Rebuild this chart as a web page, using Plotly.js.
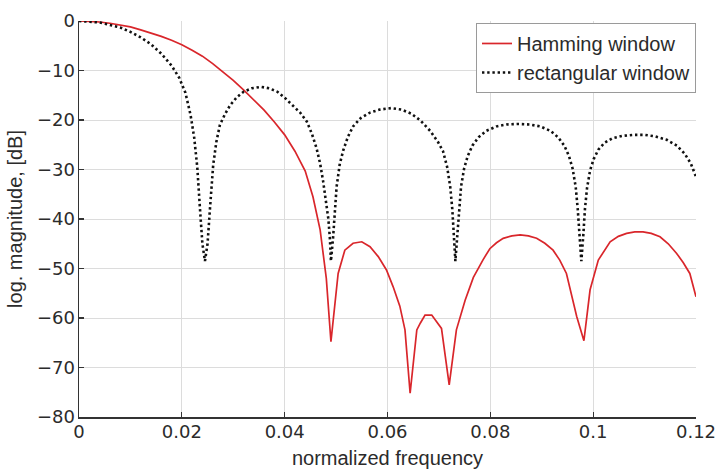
<!DOCTYPE html>
<html>
<head>
<meta charset="utf-8">
<script src="https://cdn.plot.ly/plotly-3.0.1.min.js"></script>
<style>
  html, body { margin: 0; padding: 0; background: #fff; }
  #chart { width: 718px; height: 474px; }
</style>
</head>
<body>
<div id="chart"></div>
<script>
// Hamming window magnitude response (normalized frequency, dB)
const hammingFreq = [
  0, 0.002, 0.004, 0.006, 0.008, 0.010, 0.012, 0.014, 0.016, 0.018,
  0.020, 0.022, 0.024, 0.026, 0.028, 0.030, 0.032, 0.034, 0.036, 0.038,
  0.040, 0.042, 0.044, 0.0455, 0.0469, 0.0481, 0.0490,
  0.0504, 0.0517, 0.0533, 0.0550, 0.0566, 0.0582, 0.0598, 0.0611, 0.0624, 0.0634,
  0.0644, 0.0657, 0.0664, 0.0673, 0.0686, 0.0705, 0.0720, 0.0734, 0.0751, 0.0767,
  0.0786, 0.0799, 0.0812, 0.0825, 0.0842, 0.0858, 0.0874, 0.0890, 0.0906, 0.0922,
  0.0935, 0.0948, 0.0968, 0.0982, 0.0994,
  0.1010, 0.1033, 0.1049, 0.1065, 0.1081, 0.1097, 0.1113, 0.1130, 0.1146, 0.1162,
  0.1175, 0.1188, 0.1200
];
const hammingDb = [
  0, -0.05, -0.2, -0.45, -0.8, -1.2, -1.8, -2.4, -3.1, -3.9,
  -4.8, -5.9, -7.1, -8.6, -10.3, -12.0, -13.9, -15.9, -18.0, -20.4,
  -23.0, -26.3, -30.3, -35.5, -42.2, -52.0, -64.8,
  -51.0, -46.3, -44.9, -44.6, -45.6, -47.6, -50.3, -53.7, -57.6, -62.4,
  -75.2, -62.4, -61.0, -59.4, -59.4, -62.1, -73.5, -62.4, -56.4, -51.8,
  -48.2, -46.0, -44.8, -43.9, -43.4, -43.2, -43.4, -43.9, -44.9, -46.3,
  -48.3, -51.0, -59.7, -64.6, -54.3,
  -48.3, -44.6, -43.5, -42.9, -42.6, -42.6, -42.9, -43.6, -45.0, -46.9,
  -48.8, -51.0, -55.7
];

// Rectangular window magnitude response (normalized frequency, dB)
const rectFreq = [
  0, 0.002, 0.004, 0.006, 0.008, 0.010, 0.012, 0.014, 0.016, 0.018,
  0.0195, 0.0207, 0.0217, 0.0224, 0.0230, 0.0235, 0.0240, 0.0245,
  0.0250, 0.0255, 0.0261, 0.0267, 0.0274, 0.0284, 0.0294, 0.0307, 0.0320, 0.0336,
  0.0354, 0.0370, 0.0386, 0.0400, 0.0415, 0.0430, 0.0443, 0.0453, 0.0462, 0.0469,
  0.0475, 0.0481, 0.0485, 0.0488, 0.0490,
  0.0494, 0.0497, 0.0501, 0.0507, 0.0514, 0.0523, 0.0533, 0.0548, 0.0566, 0.0585,
  0.0607, 0.0627, 0.0646, 0.0664, 0.0683, 0.0698, 0.0708, 0.0716, 0.0722, 0.0726,
  0.0729, 0.0732,
  0.0736, 0.0739, 0.0743, 0.0749, 0.0756, 0.0765, 0.0777, 0.0792, 0.0812, 0.0832,
  0.0854, 0.0876, 0.0897, 0.0917, 0.0932, 0.0944, 0.0953, 0.0960, 0.0966, 0.0970,
  0.0973, 0.0977,
  0.0981, 0.0984, 0.0988, 0.0994, 0.1001, 0.1010, 0.1022, 0.1037, 0.1057, 0.1080,
  0.1100, 0.1120, 0.1143, 0.1163, 0.1178, 0.1190, 0.1200
];
const rectDb = [
  0, -0.1, -0.3, -0.8, -1.3, -2.2, -3.3, -4.7, -6.6, -9.0,
  -11.5, -14.5, -19.0, -23.5, -29.5, -37.5, -45.0, -48.5,
  -45.0, -37.5, -29.1, -24.5, -21.0, -18.8, -17.0, -15.4, -14.3, -13.6,
  -13.3, -13.6, -14.3, -15.5, -16.9, -18.5, -20.3, -22.8, -25.7, -28.8,
  -32.5, -36.5, -40.0, -44.0, -48.5,
  -44.0, -40.0, -33.5, -29.0, -26.1, -23.4, -21.3, -19.6, -18.5, -17.9,
  -17.6, -17.9, -18.7, -20.1, -22.2, -24.4, -26.3, -29.5, -33.5, -38.0,
  -43.0, -48.5,
  -43.0, -38.0, -33.5, -29.8, -27.3, -25.2, -23.5, -22.2, -21.3, -20.9,
  -20.8, -20.9, -21.3, -22.2, -23.5, -25.2, -27.3, -29.8, -33.5, -38.0,
  -43.0, -48.5,
  -43.0, -38.0, -33.8, -30.2, -27.9, -26.0, -24.6, -23.7, -23.2, -23.0,
  -23.0, -23.3, -24.0, -25.2, -26.8, -28.8, -31.5
];

const xTicks = [0, 0.02, 0.04, 0.06, 0.08, 0.1, 0.12];
const yTicks = [-80, -70, -60, -50, -40, -30, -20, -10, 0];

const textColor = '#2b2b2b';
const fontFamily = '"Liberation Sans", Arial, Helvetica, sans-serif';
const tickFamily = '"DejaVu Sans", "Liberation Sans", Arial, sans-serif';

const traces = [
  {
    x: hammingFreq, y: hammingDb,
    type: 'scatter', mode: 'lines',
    name: 'Hamming window',
    line: { color: '#d9262b', width: 1.7 }
  },
  {
    x: rectFreq, y: rectDb,
    type: 'scatter', mode: 'lines',
    name: 'rectangular window',
    line: { color: '#111111', width: 2.6, dash: '2.4px,2.8px' }
  }
];

const axisCommon = {
  showline: true, linecolor: '#333333', linewidth: 1.5,
  showgrid: true, gridcolor: '#dcdcdc', gridwidth: 1,
  zeroline: false,
  ticks: 'inside', ticklen: 5, tickwidth: 1.2, tickcolor: '#333333',
  tickfont: { family: tickFamily, size: 18, color: textColor },
  mirror: false
};

const layout = {
  width: 718, height: 474,
  paper_bgcolor: '#ffffff', plot_bgcolor: '#ffffff',
  margin: { l: 79, r: 22, t: 21, b: 57 },
  font: { family: fontFamily, size: 20, color: textColor },
  showlegend: true,
  legend: {
    x: 1, xanchor: 'right', y: 0.995, yanchor: 'top',
    bgcolor: '#ffffff', bordercolor: '#9a9a9a', borderwidth: 1,
    font: { family: fontFamily, size: 20, color: textColor },
    tracegroupgap: 0
  },
  xaxis: Object.assign({}, axisCommon, {
    range: [0, 0.12],
    tickvals: xTicks,
    ticktext: xTicks.map(v => String(v)),
    ticklabelstandoff: -2,
    title: { text: 'normalized frequency', standoff: 10,
             font: { family: fontFamily, size: 20, color: textColor } }
  }),
  yaxis: Object.assign({}, axisCommon, {
    range: [-80, 0],
    tickvals: yTicks,
    ticktext: yTicks.map(v => v < 0 ? '\u2212' + Math.abs(v) : String(v)),
    ticklabelstandoff: -1,
    title: { text: 'log. magnitude, [dB]', standoff: 9,
             font: { family: fontFamily, size: 20, color: textColor } }
  })
};

Plotly.newPlot('chart', traces, layout, { staticPlot: true, displayModeBar: false });
</script>
</body>
</html>
